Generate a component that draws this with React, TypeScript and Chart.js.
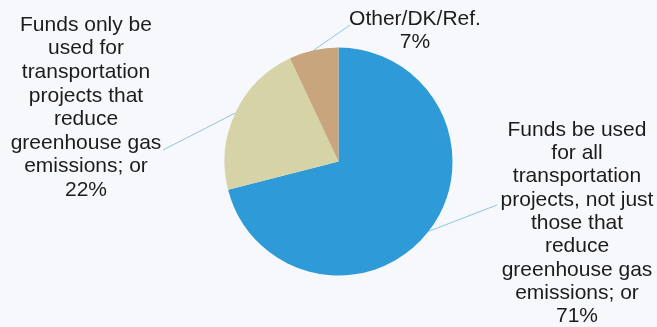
import React, { useEffect, useRef } from "react";
import { Chart, registerables } from "chart.js";

Chart.register(...registerables);

const categories: string[][] = [
  ["Funds be used", "for all", "transportation", "projects, not just", "those that", "reduce", "greenhouse gas", "emissions; or"],
  ["Funds only be", "used for", "transportation", "projects that", "reduce", "greenhouse gas", "emissions; or"],
  ["Other/DK/Ref."],
];
const values: number[] = [71, 22, 7];
const colors: string[] = ["#2f9ad8", "#d6d3a6", "#c9a57e"];

// label placement (text centre x, first line y, leader-line end point)
const labelPlacement = [
  { cx: 577, y0: 130, lh: 23.3, ex: 497, ey: 205 },
  { cx: 86, y0: 25, lh: 23.6, ex: 163, ey: 150 },
  { cx: 415, y0: 19, lh: 23, ex: 350, ey: 25 },
];

const labelPlugin = {
  id: "outLabels",
  afterDatasetsDraw(chart: any) {
    const ctx = chart.ctx;
    const meta = chart.getDatasetMeta(0);
    const ds = chart.data.datasets[0];
    ctx.save();
    meta.data.forEach((arc: any, i: number) => {
      const p = arc.getProps(["x", "y", "startAngle", "endAngle", "outerRadius"], true);
      const mid = (p.startAngle + p.endAngle) / 2;
      const sx = p.x + Math.cos(mid) * p.outerRadius;
      const sy = p.y + Math.sin(mid) * p.outerRadius;
      const lp = labelPlacement[i];
      ctx.strokeStyle = "#8fc5e2";
      ctx.lineWidth = 1;
      ctx.beginPath();
      ctx.moveTo(sx, sy);
      ctx.lineTo(lp.ex, lp.ey);
      ctx.stroke();
      const lines = [...(chart.data.labels[i] as string[]), ds.data[i] + "%"];
      ctx.fillStyle = "#1c1c1c";
      ctx.font = '21px "Liberation Sans", Arial, sans-serif';
      ctx.textAlign = "center";
      ctx.textBaseline = "middle";
      lines.forEach((t: string, k: number) => {
        ctx.fillText(t, lp.cx, lp.y0 + k * lp.lh);
      });
    });
    ctx.restore();
  },
};

const bgPlugin = {
  id: "bg",
  beforeDraw(chart: any) {
    const ctx = chart.ctx;
    ctx.save();
    ctx.fillStyle = "#f7f8fb";
    ctx.fillRect(0, 0, chart.width, chart.height);
    ctx.restore();
  },
};

export default function App() {
  const ref = useRef<HTMLCanvasElement | null>(null);
  useEffect(() => {
    if (!ref.current) return;
    const chart = new Chart(ref.current, {
      type: "pie",
      data: {
        labels: categories as any,
        datasets: [
          {
            data: values,
            backgroundColor: colors,
            borderWidth: 0,
          },
        ],
      },
      options: {
        responsive: false,
        animation: false,
        layout: { padding: { top: 47.5, bottom: 51.5, left: 224.5, right: 204.5 } },
        plugins: { legend: { display: false }, tooltip: { enabled: false } },
      },
      plugins: [bgPlugin, labelPlugin],
    });
    return () => chart.destroy();
  }, []);
  return (
    <div style={{ position: "fixed", left: 0, top: 0, width: 657, height: 327, background: "#f7f8fb" }}>
      <canvas ref={ref} width={657} height={327} style={{ display: "block" }} />
    </div>
  );
}
